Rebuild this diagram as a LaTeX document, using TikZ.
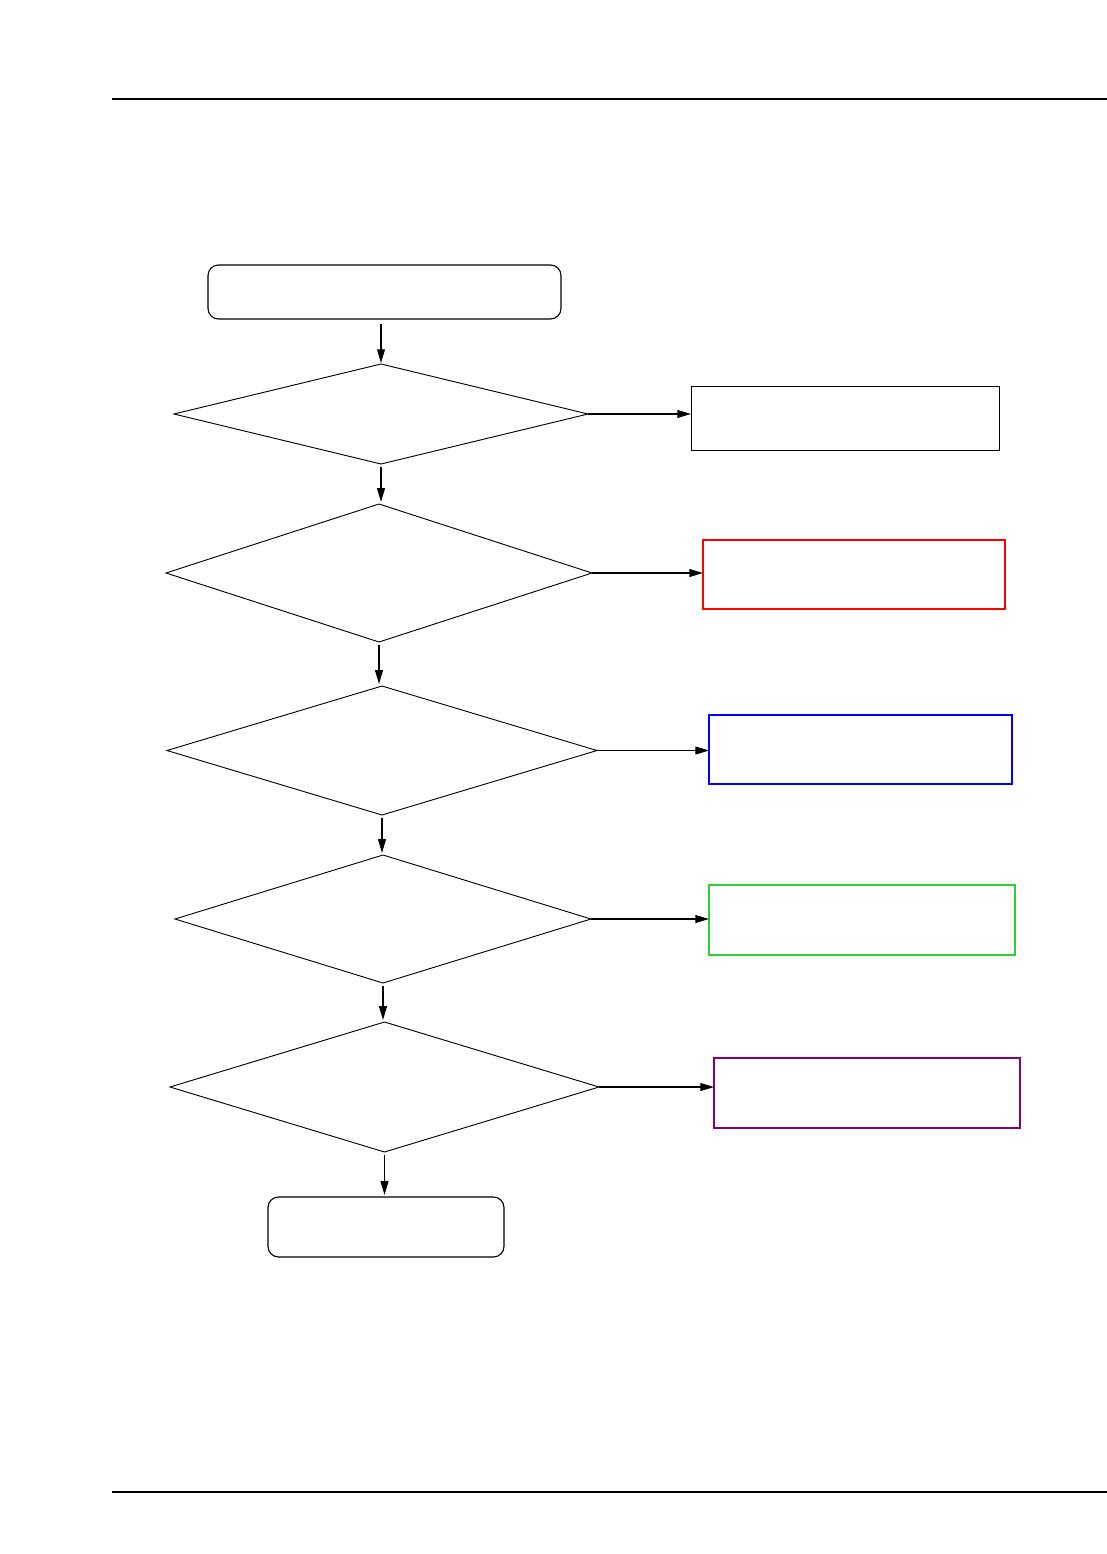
\documentclass[tikz,border=0pt]{standalone}
\usepackage[svgnames, dvipsnames]{xcolor}
\usetikzlibrary{shapes.geometric, arrows.meta}
\newcommand{\pxu}{0.019cm}
\definecolor{boxgreen}{RGB}{50,205,50}
\definecolor{boxpurple}{RGB}{128,0,128}

\begin{document}
\begin{tikzpicture}[x=0.019cm, y=-0.019cm,
    decision/.style={diamond, draw, line width=0.5pt, inner sep=0pt, outer sep=0pt},
    terminal/.style={rectangle, draw, rounded corners=2mm, line width=0.6pt, inner sep=0pt, outer sep=0pt},
    actionbox/.style={rectangle, draw, inner sep=0pt, outer sep=0pt, minimum width=306*\pxu, minimum height=70*\pxu},
    flow/.style={-{Triangle[length=2.6mm, width=1.5mm]}, line width=0.6pt}]
    \useasboundingbox (0,0) rectangle (1107,1554);
    \draw[line width=0.7pt] (112,99) -- (1107,99);
    \draw[line width=0.7pt] (112,1492) -- (1107,1492);
    % start and end
    \node[terminal, minimum width=353*\pxu, minimum height=54*\pxu] (start) at (384.5,292) {};
    \node[terminal, minimum width=236*\pxu, minimum height=60*\pxu] (stop) at (386,1227) {};
    % the five questions
    \node[decision, minimum width=414*\pxu, minimum height=100*\pxu] (q1) at (381,414) {};
    \node[decision, minimum width=426*\pxu, minimum height=138*\pxu] (q2) at (379,573) {};
    \node[decision, minimum width=430*\pxu, minimum height=129*\pxu] (q3) at (382,750.5) {};
    \node[decision, minimum width=416*\pxu, minimum height=128*\pxu] (q4) at (383,919) {};
    \node[decision, minimum width=429*\pxu, minimum height=130*\pxu] (q5) at (384.5,1087) {};
    % the answers
    \node[actionbox, line width=0.5pt, minimum width=308*\pxu, minimum height=64*\pxu] (r1) at (845,418) {};
    \node[actionbox, draw=red, line width=1.2pt, minimum width=302*\pxu, minimum height=69*\pxu] (r2) at (854,574.5) {};
    \node[actionbox, draw=blue, line width=1.2pt, minimum width=303*\pxu, minimum height=69*\pxu] (r3) at (860.5,749.5) {};
    \node[actionbox, draw=boxgreen, line width=1.4pt] (r4) at (862,920) {};
    \node[actionbox, draw=boxpurple, line width=1.4pt] (r5) at (867,1093) {};
    \draw[flow, shorten <=0.9mm, shorten >=0.2mm] (q1.north |- start.south) -- (q1.north);
    \foreach \a/\b in {q1/q2, q2/q3, q3/q4, q4/q5, q5/stop} {
        \draw[flow, shorten <=0.5mm, shorten >=0.4mm] (\a.south) -- (\a.south |- \b.north);
    }
    \foreach \q/\r in {q1/r1, q2/r2, q3/r3, q4/r4, q5/r5} {
        \draw[flow] (\q.east) -- (\r.west |- \q.east);
    }
\end{tikzpicture}
\end{document}
